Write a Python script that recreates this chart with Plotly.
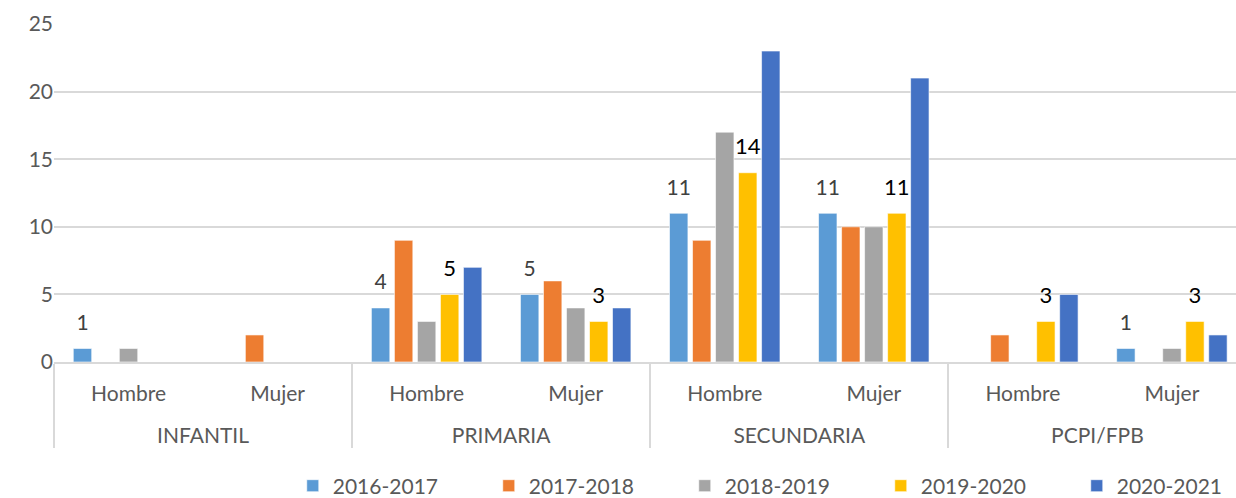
import plotly.graph_objects as go

levels = ["INFANTIL", "INFANTIL", "PRIMARIA", "PRIMARIA",
          "SECUNDARIA", "SECUNDARIA", "PCPI/FPB", "PCPI/FPB"]
sexes = ["Hombre", "Mujer"] * 4

series_names = ["2016-2017", "2017-2018", "2018-2019", "2019-2020", "2020-2021"]
v_2016 = [1, 0, 4, 5, 11, 11, 0, 1]
v_2017 = [0, 2, 9, 6, 9, 10, 2, 0]
v_2018 = [1, 0, 3, 4, 17, 10, 0, 1]
v_2019 = [0, 0, 5, 3, 14, 11, 3, 3]
v_2020 = [0, 0, 7, 4, 23, 21, 5, 2]
values = [v_2016, v_2017, v_2018, v_2019, v_2020]

# which bars carry a data label
labels_2016 = ["1", "", "4", "5", "11", "11", "", "1"]
labels_2019 = ["", "", "5", "3", "14", "11", "3", "3"]

colors = ["#5B9BD5", "#ED7D31", "#A5A5A5", "#FFC000", "#4472C4"]
FONT = "Lato, 'Open Sans', sans-serif"
GREY = "#595959"

# second level shown one line lower (extra gap like the reference)
levels_disp = ["<br>" + g for g in levels]
x = [levels_disp, sexes]
fig = go.Figure()
for i, (name, vals, col) in enumerate(zip(series_names, values, colors)):
    fig.add_trace(go.Bar(
        x=x, y=vals, name=name, offsetgroup=str(i),
        marker=dict(color=col, line=dict(color="white", width=0.6)),
        hoverinfo="y+name",
    ))

LABEL_GAP = 4.0  # data units reserved above bar for the label
for i, labels, color, size in [(0, labels_2016, "#404040", 21), (3, labels_2019, "black", 22)]:
    fig.add_trace(go.Bar(
        x=x, y=[LABEL_GAP] * len(labels), base=values[i], offsetgroup=str(i),
        text=labels, textposition="inside", insidetextanchor="middle",
        constraintext="none", cliponaxis=False,
        insidetextfont=dict(family=FONT, size=size, color=color),
        marker=dict(color="rgba(0,0,0,0)", line=dict(width=0)),
        showlegend=False, hoverinfo="skip",
    ))

fig.update_layout(
    width=1236, height=498,
    margin=dict(l=54, r=0, t=24, b=136, autoexpand=False),
    paper_bgcolor="white", plot_bgcolor="white",
    barmode="group", bargap=0.228, bargroupgap=0.2,
    font=dict(family=FONT, size=21, color=GREY),
    showlegend=True,
    legend=dict(orientation="h", x=0.202, xanchor="left", y=-0.367, yanchor="middle",
                font=dict(family=FONT, size=21, color=GREY),
                entrywidth=151, entrywidthmode="pixels", itemwidth=30,
                traceorder="normal"),
    xaxis=dict(type="multicategory", range=[-0.5, 7.43], automargin=False,
               showgrid=False, showline=True, linecolor="#D9D9D9", linewidth=1.5,
               showdividers=True, dividercolor="#D9D9D9", dividerwidth=1.5,
               ticks="outside", ticklen=18, tickcolor="rgba(0,0,0,0)",
               ticklabelstandoff=12,
               tickfont=dict(family=FONT, size=21, color=GREY)),
    yaxis=dict(range=[0, 25], dtick=5, showgrid=True, gridcolor="#D9D9D9", gridwidth=1.5,
               zeroline=False, showline=False, ticks="", automargin=False,
               tickfont=dict(family=FONT, size=21, color=GREY)),
)

fig.write_html(
    "out.html",
    config={"displayModeBar": False},
    post_script="document.body.style.margin='0';document.body.style.overflow='hidden';",
)
